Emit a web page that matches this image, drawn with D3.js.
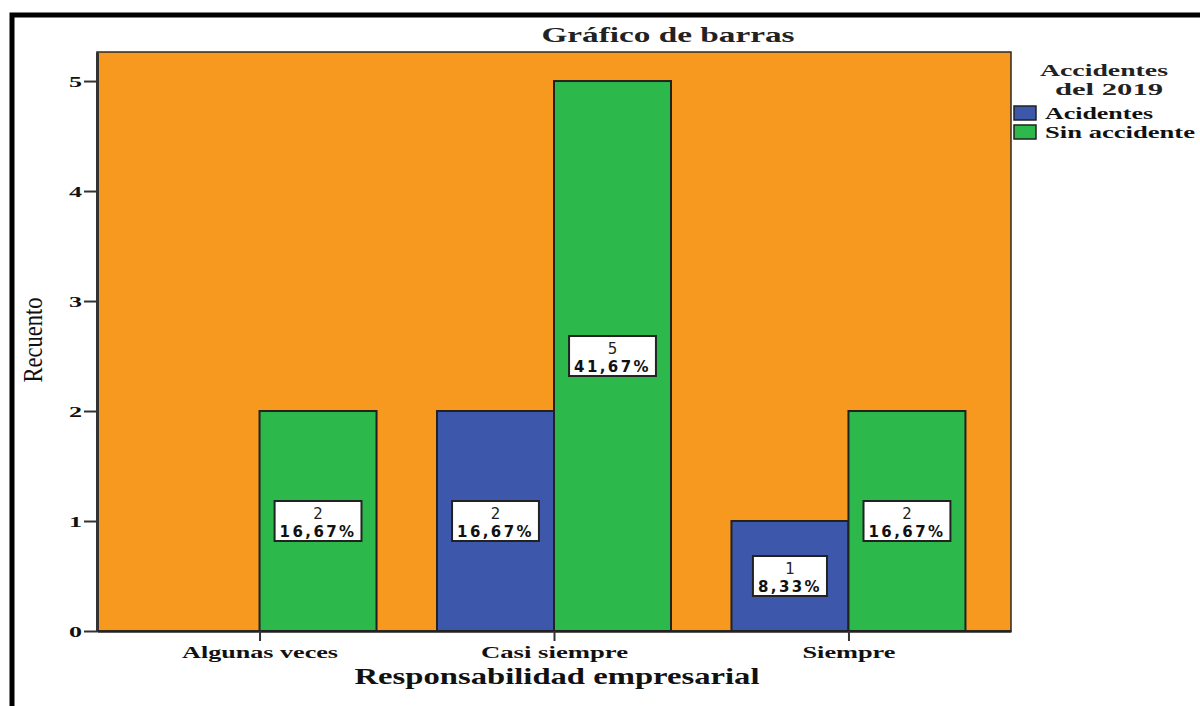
<!DOCTYPE html>
<html>
<head>
<meta charset="utf-8">
<script src="https://cdn.jsdelivr.net/npm/d3@7/dist/d3.min.js"></script>
<style>
  html, body { margin: 0; padding: 0; background: #fff; }
  svg { display: block; }
</style>
</head>
<body>
<script>
// Counts of responses by category, split by accident status in 2019
const categories = ["Algunas veces", "Casi siempre", "Siempre"];
const seriesNames = ["Acidentes", "Sin accidente"];
const acidentes = [0, 2, 1];
const sinAccidente = [2, 5, 2];
const yTicks = [0, 1, 2, 3, 4, 5];

const W = 1200, H = 706;
const colors = { "Acidentes": "#3d57ab", "Sin accidente": "#2db84c" };
const plotBg = "#f7981f";
const serif = "'Liberation Serif', 'Times New Roman', serif";
const sans = "'DejaVu Sans', Verdana, sans-serif";

const svg = d3.select("body").append("svg").attr("width", W).attr("height", H);

// stretch a text element to a given width
function fit(sel, w) {
  sel.attr("textLength", w).attr("lengthAdjust", "spacingAndGlyphs");
  return sel;
}

// outer frame (continues past the right and bottom edges)
svg.append("rect")
  .attr("x", 12).attr("y", 15).attr("width", 1220).attr("height", 720)
  .attr("fill", "#fff").attr("stroke", "#000").attr("stroke-width", 5);

const plot = { left: 97, right: 1011, top: 52, bottom: 631 };

const y = d3.scaleLinear().domain([0, 5.264]).range([plot.bottom, plot.top]);
const x0 = d3.scalePoint().domain(categories).range([plot.left, plot.right]).padding(0.552);
const x1 = d3.scaleBand().domain(seriesNames).range([-117, 117]);

// plot background
svg.append("rect")
  .attr("x", plot.left).attr("y", plot.top)
  .attr("width", plot.right - plot.left).attr("height", plot.bottom - plot.top)
  .attr("fill", plotBg).attr("stroke", "#2a2a2a").attr("stroke-width", 1.5);

// build rows
const total = d3.sum(acidentes) + d3.sum(sinAccidente);
const rows = [];
categories.forEach((c, i) => {
  rows.push({ cat: c, series: "Acidentes", value: acidentes[i] });
  rows.push({ cat: c, series: "Sin accidente", value: sinAccidente[i] });
});
const shown = rows.filter(d => d.value > 0);

// bars
svg.append("g").selectAll("rect").data(shown).join("rect")
  .attr("x", d => x0(d.cat) + x1(d.series))
  .attr("y", d => y(d.value))
  .attr("width", x1.bandwidth())
  .attr("height", d => y(0) - y(d.value))
  .attr("fill", d => colors[d.series])
  .attr("stroke", "#222").attr("stroke-width", 2);

// y axis
const yAxis = svg.append("g")
  .attr("transform", `translate(${plot.left},0)`)
  .call(d3.axisLeft(y).tickValues(yTicks).tickSize(13).tickSizeOuter(0).tickPadding(2).tickFormat(d3.format("d")));
yAxis.select(".domain").attr("stroke", "#333").attr("stroke-width", 3);
yAxis.selectAll(".tick line").attr("stroke", "#333").attr("stroke-width", 2);
yAxis.selectAll(".tick text")
  .attr("font-family", serif).attr("font-weight", "bold").attr("font-size", 15)
  .attr("fill", "#111").attr("dy", "0.35em")
  .each(function () { fit(d3.select(this), 13); });

// x axis
const xAxis = svg.append("g")
  .attr("transform", `translate(0,${plot.bottom})`)
  .call(d3.axisBottom(x0).tickSize(10).tickSizeOuter(0).tickPadding(6));
xAxis.select(".domain").attr("stroke", "#222").attr("stroke-width", 2.5);
xAxis.selectAll(".tick line").attr("stroke", "#333").attr("stroke-width", 2);
const xLabelW = { "Algunas veces": 156, "Casi siempre": 147, "Siempre": 93 };
xAxis.selectAll(".tick text")
  .attr("font-family", serif).attr("font-weight", "bold").attr("font-size", 17)
  .attr("fill", "#111").attr("dy", "0.62em")
  .each(function (d) { fit(d3.select(this), xLabelW[d]); });

// value labels at mid-height of each bar
const fmtPct = v => (v / total * 100).toFixed(2).replace(".", ",") + "%";
const lab = svg.append("g").selectAll("g").data(shown).join("g")
  .attr("transform", d => `translate(${x0(d.cat) + x1(d.series) + x1.bandwidth() / 2},${y(d.value / 2)})`);
lab.append("text")
  .attr("text-anchor", "middle").attr("y", 16)
  .attr("font-family", sans).attr("font-weight", "bold").attr("font-size", 15)
  .attr("letter-spacing", 2.4).attr("fill", "#111")
  .text(d => fmtPct(d.value));
lab.insert("rect", "text")
  .each(function () {
    const t = d3.select(this.parentNode).select("text").node();
    const w = t.getComputedTextLength() + 10;
    d3.select(this).attr("x", -w / 2).attr("width", w);
  })
  .attr("y", -20).attr("height", 40)
  .attr("fill", "#fff").attr("stroke", "#222").attr("stroke-width", 2);
lab.append("text")
  .attr("text-anchor", "middle").attr("y", -2)
  .attr("font-family", sans).attr("font-size", 15).attr("fill", "#222")
  .text(d => d.value);

// title
fit(svg.append("text")
  .attr("x", 668).attr("y", 42).attr("text-anchor", "middle")
  .attr("font-family", serif).attr("font-weight", "bold").attr("font-size", 22)
  .attr("fill", "#222").text("Gráfico de barras"), 253);

// axis titles
fit(svg.append("text")
  .attr("x", 557).attr("y", 684).attr("text-anchor", "middle")
  .attr("font-family", serif).attr("font-weight", "bold").attr("font-size", 24)
  .attr("fill", "#111").text("Responsabilidad empresarial"), 405);

fit(svg.append("text")
  .attr("transform", "translate(42,340) rotate(-90)").attr("text-anchor", "middle")
  .attr("font-family", serif).attr("font-size", 27)
  .attr("fill", "#111").text("Recuento"), 85);

// legend
const lg = svg.append("g");
fit(lg.append("text").attr("x", 1104).attr("y", 76).attr("text-anchor", "middle")
  .attr("font-family", serif).attr("font-weight", "bold").attr("font-size", 16)
  .attr("fill", "#222").text("Accidentes"), 128);
fit(lg.append("text").attr("x", 1109).attr("y", 94.5).attr("text-anchor", "middle")
  .attr("font-family", serif).attr("font-weight", "bold").attr("font-size", 16)
  .attr("fill", "#222").text("del 2019"), 108);
const legendW = { "Acidentes": 108, "Sin accidente": 150 };
const item = lg.selectAll("g.item").data(seriesNames).join("g")
  .attr("class", "item")
  .attr("transform", (d, i) => `translate(1014,${106 + i * 19})`);
item.append("rect").attr("width", 22).attr("height", 14)
  .attr("fill", d => colors[d]).attr("stroke", "#222").attr("stroke-width", 1.5);
item.append("text").attr("x", 31).attr("y", 13)
  .attr("font-family", serif).attr("font-weight", "bold").attr("font-size", 17)
  .attr("fill", "#111")
  .text(d => d)
  .each(function (d) { fit(d3.select(this), legendW[d]); });
</script>
</body>
</html>
